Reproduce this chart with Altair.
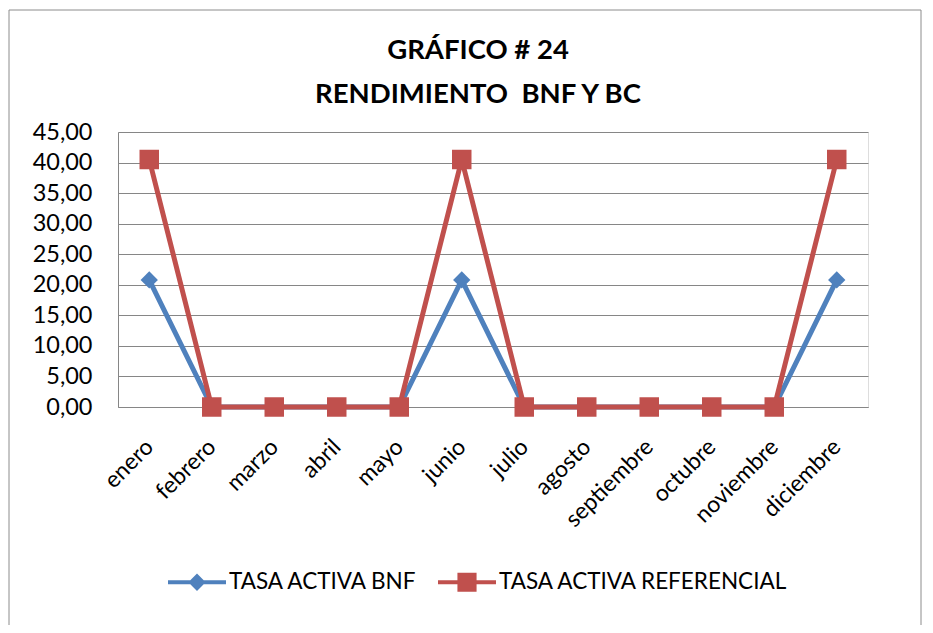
import altair as alt
import pandas as pd

months = ["enero", "febrero", "marzo", "abril", "mayo", "junio", "julio",
          "agosto", "septiembre", "octubre", "noviembre", "diciembre"]
bnf = [20.8, 0, 0, 0, 0, 20.8, 0, 0, 0, 0, 0, 20.8]
ref = [40.5, 0, 0, 0, 0, 40.5, 0, 0, 0, 0, 0, 40.5]
series_names = ["TASA ACTIVA BNF", "TASA ACTIVA REFERENCIAL"]
colors = ["#4F81BD", "#C0504D"]
shapes = ["diamond", "square"]
sizes = [300, 380]
y_ticks = [0, 5, 10, 15, 20, 25, 30, 35, 40, 45]
title_lines = ["GRÁFICO # 24", "RENDIMIENTO\u00a0 BNF Y BC"]

rows = []
for name, vals in zip(series_names, [bnf, ref]):
    for m, v in zip(months, vals):
        rows.append({"mes": m, "valor": v, "serie": name})
df = pd.DataFrame(rows)

FONT = "Lato"

path_bnf = "M-1,-0.07H1V0.07H-1Z M0,-0.3L0.3,0L0,0.3L-0.3,0Z"
path_ref = "M-1,-0.07H1V0.07H-1Z M-0.33,-0.33H0.33V0.33H-0.33Z"

legend = alt.Legend(
    title=None,
    orient="none",
    legendX=50,
    legendY=421,
    direction="horizontal",
    labelFont=FONT,
    labelFontSize=22.5,
    labelColor="black",
    labelLimit=0,
    labelOffset=3,
    columnPadding=20,
    padding=0,
    symbolSize=3364,
    symbolStrokeWidth=0,
    symbolOpacity=1,
    symbolType=alt.ExprRef(expr=f"datum.value == '{series_names[0]}' ? '{path_bnf}' : '{path_ref}'"),
    symbolFillColor=alt.ExprRef(expr="scale('color', datum.value)"),
)

x_enc = alt.X(
    "mes:N",
    sort=months,
    scale=alt.Scale(type="point", padding=0.5),
    axis=alt.Axis(
        title=None,
        labelAngle=-45,
        labelAlign="right",
        labelBaseline="middle",
        labelFont=FONT,
        labelFontSize=23,
        labelColor="black",
        labelPadding=36,
        ticks=False,
        grid=False,
        domainColor="#868686",
        domainWidth=1,
    ),
)
y_enc = alt.Y(
    "valor:Q",
    scale=alt.Scale(domain=[0, 45], nice=False, zero=True),
    axis=alt.Axis(
        title=None,
        values=y_ticks,
        labelExpr="replace(format(datum.value, '.2f'), '.', ',')",
        labelFont=FONT,
        labelFontSize=23.5,
        labelColor="black",
        labelPadding=26,
        ticks=False,
        grid=True,
        gridColor="#868686",
        gridWidth=1,
        domainColor="#868686",
        domainWidth=1,
    ),
)
color_enc = alt.Color(
    "serie:N",
    sort=series_names,
    scale=alt.Scale(domain=series_names, range=colors),
    legend=legend,
)

border = alt.Chart(pd.DataFrame({"a": [0]})).mark_rect(
    fillOpacity=0, stroke="#8c8c8c", strokeWidth=1, clip=False
).encode(
    x=alt.value(-109), x2=alt.value(803), y=alt.value(-122), y2=alt.value(520)
)

lines = alt.Chart(df).mark_line(strokeWidth=5).encode(
    x=x_enc, y=y_enc, color=color_enc,
)

point_layers = []
for name, col, shp, sz in zip(series_names, colors, shapes, sizes):
    point_layers.append(
        alt.Chart(df).transform_filter(alt.datum.serie == name)
        .mark_point(filled=True, opacity=1, shape=shp, size=sz, color=col)
        .encode(x=x_enc, y=y_enc)
    )

chart = alt.layer(border, lines, *point_layers).properties(
    width=750,
    height=275,
    padding={"left": 110, "top": 124, "right": 57, "bottom": 218},
    autosize=alt.AutoSizeParams(type="none"),
    title=alt.TitleParams(
        text=title_lines,
        font=FONT,
        fontSize=27.5,
        fontWeight="bold",
        color="black",
        anchor="middle",
        dx=-15,
        offset=-99,
        lineHeight=44,
    ),
).configure_view(stroke=None).configure(background="white")

chart.save("out.html", embed_options={"renderer": "svg", "actions": False})
